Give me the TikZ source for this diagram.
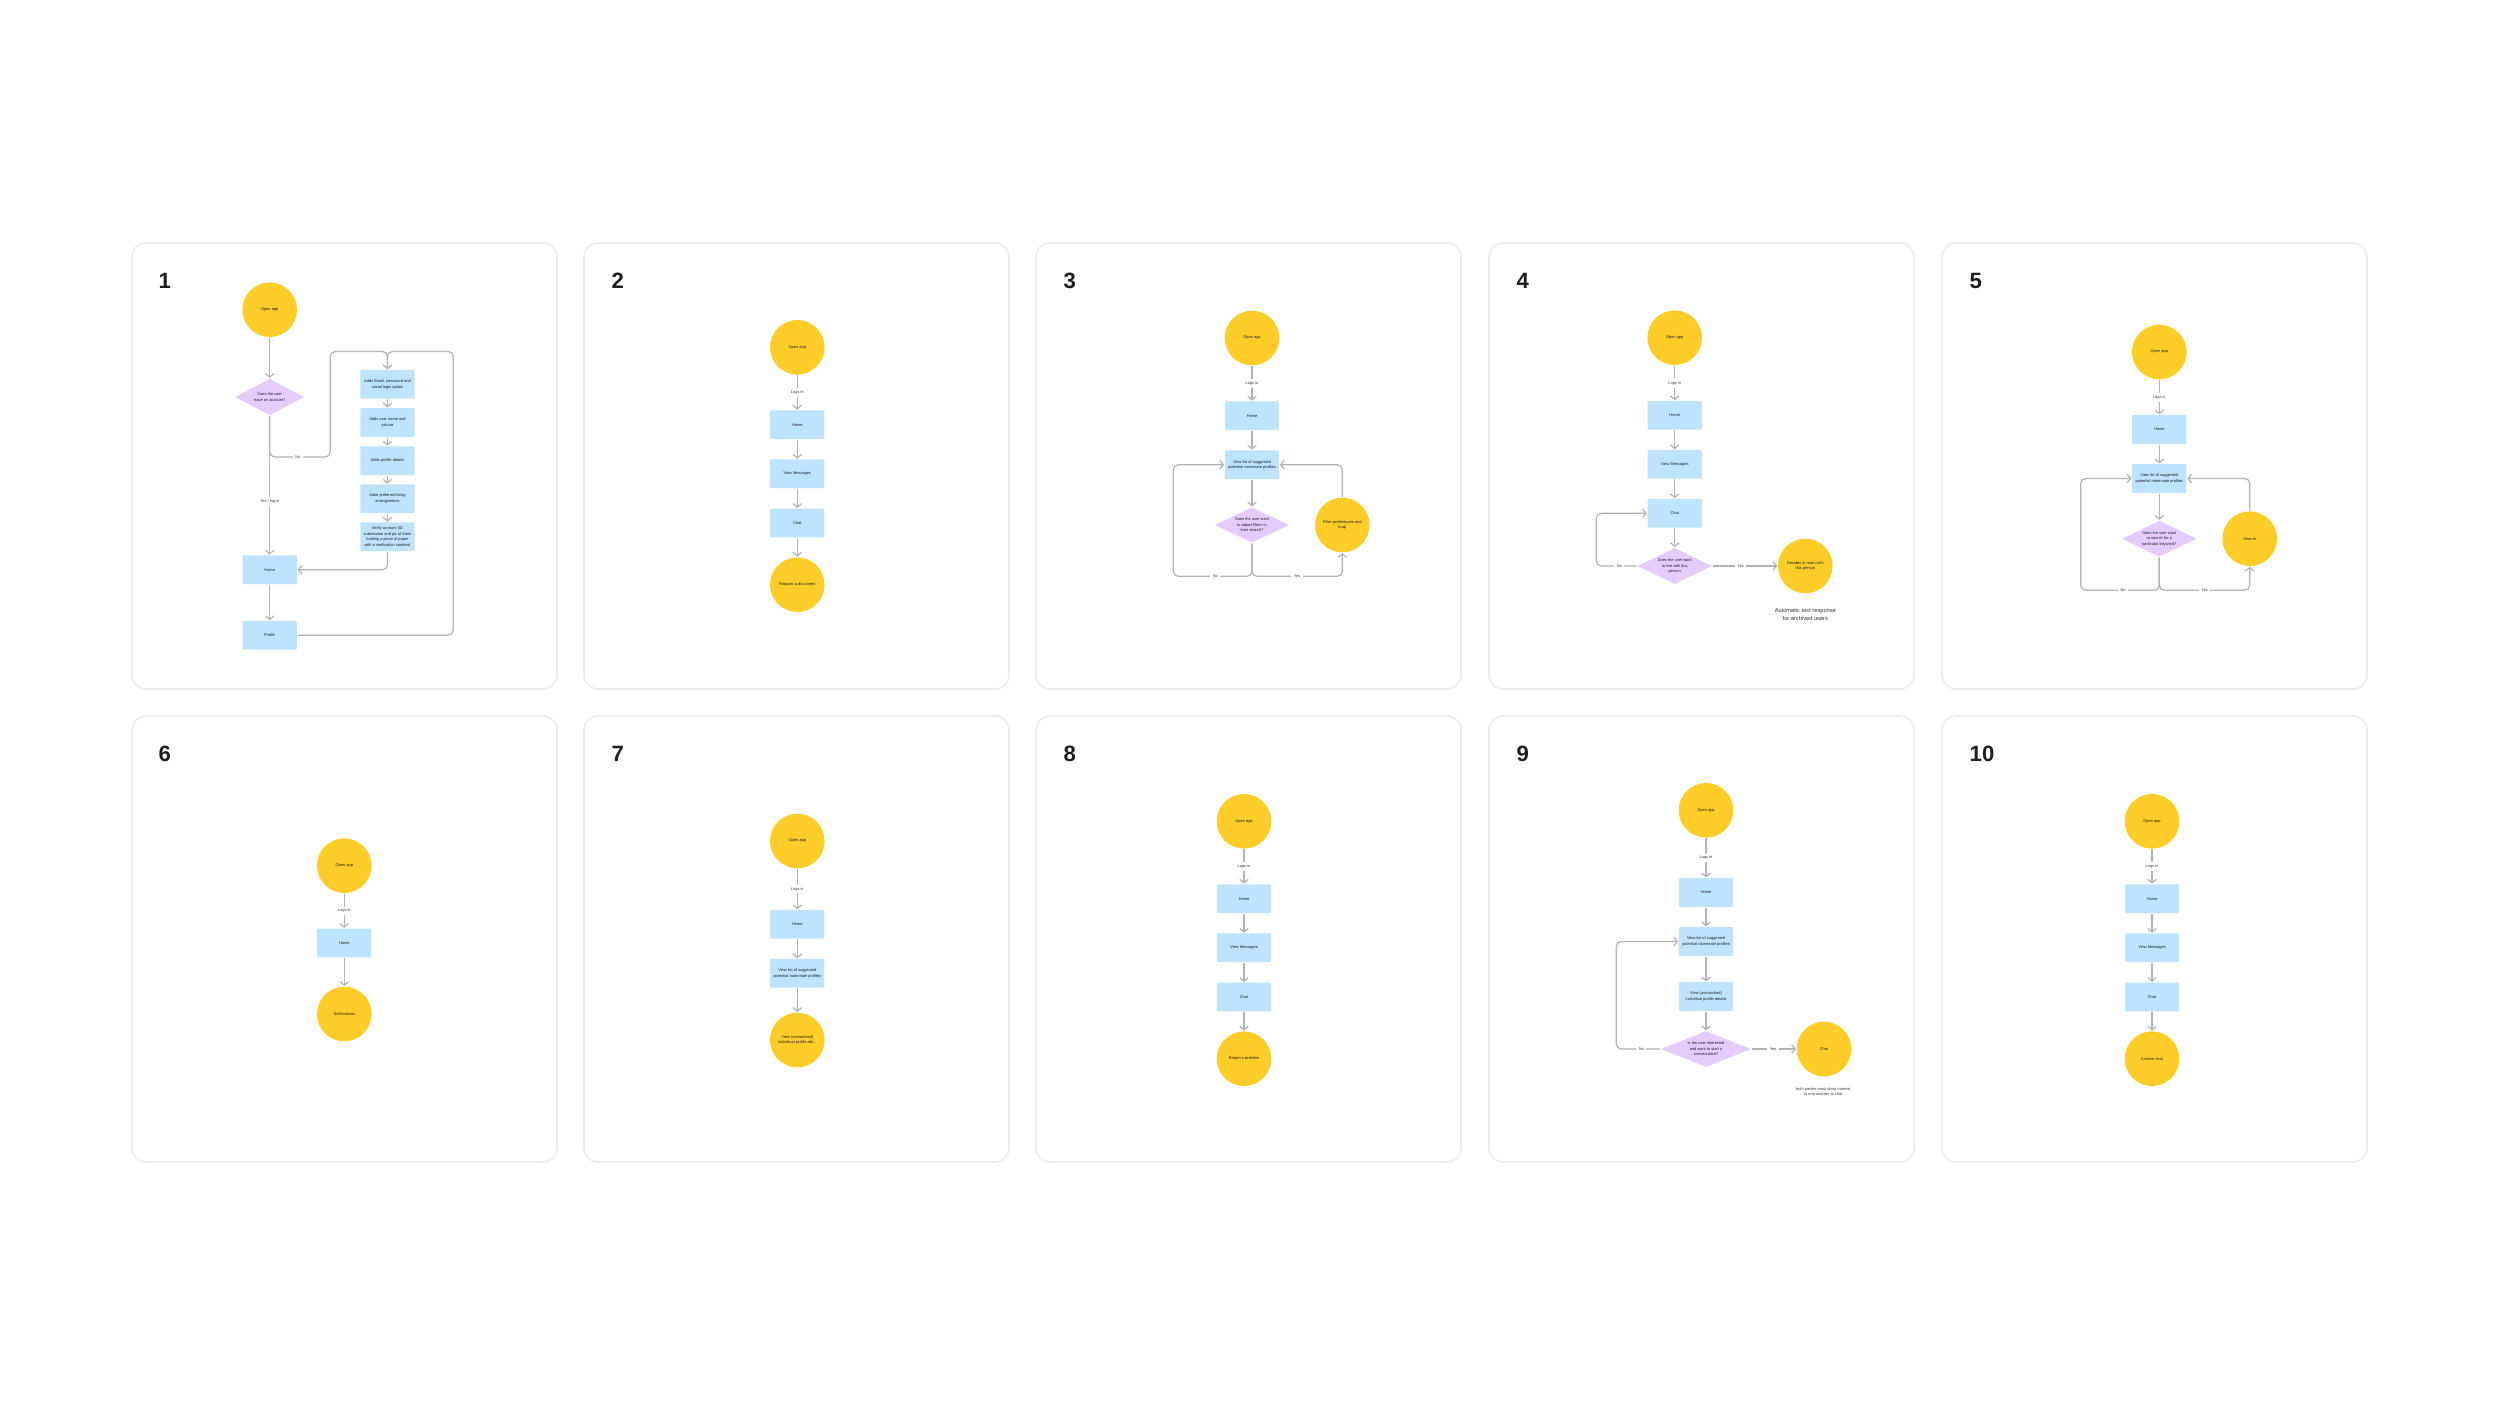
\documentclass[tikz,border=0pt]{standalone}
\usepackage{fontspec}
\setmainfont{Liberation Sans}
\usetikzlibrary{shapes.geometric,arrows.meta}
\definecolor{fjyellow}{HTML}{FFCD29}
\definecolor{fjblue}{HTML}{BDE3FF}
\definecolor{fjviolet}{HTML}{E4CCFF}
\definecolor{linegray}{HTML}{B3B3B3}
\definecolor{panelgray}{HTML}{EDEDED}
\definecolor{txt}{HTML}{1E1E1E}
\definecolor{lbltxt}{HTML}{3A3A3A}
\definecolor{notetxt}{HTML}{333333}
\newcommand\fjnode{\fontsize{1.12pt}{1.55pt}\selectfont}
\newcommand\fjnote{\fontsize{1.62pt}{2.08pt}\selectfont}
\newcommand\fjnum{\fontsize{6.3pt}{7pt}\selectfont\bfseries}
\tikzset{
 panel/.style={draw=panelgray, line width=0.45pt, fill=white, rounded corners=0.14cm},
 pnum/.style={anchor=base west, inner sep=0pt, font=\fjnum, text=txt},
 term/.style={circle, fill=fjyellow, minimum size=0.546cm, inner sep=0pt, align=center, font=\fjnode, text=txt},
 proc/.style={rectangle, fill=fjblue, minimum width=0.543cm, minimum height=0.287cm, inner sep=0pt, align=center, font=\fjnode, text=txt, rounded corners=0.3pt},
 dec/.style={diamond, fill=fjviolet, inner sep=0pt},
 dtext/.style={align=center, font=\fjnode, text=txt, inner sep=0pt},
 conn/.style={draw=linegray, line width=0.35pt, rounded corners=0.05cm, -{Straight Barb[length=1pt,width=2.4pt]}},
 lbl/.style={fill=white, inner sep=0.7pt, font=\fjnode, text=lbltxt},
 note/.style={align=center, font=\fjnote, text=notetxt, inner sep=0pt},
 smallnote/.style={align=center, font=\fjnode, text=notetxt, inner sep=0pt},
}
\begin{document}
\begin{tikzpicture}[x=0.01cm,y=-0.01cm]
\useasboundingbox[fill=white] (0,0) rectangle (2500,1406);
% panels
\foreach \px in {132,584,1036,1489,1942}{
  \draw[panel] (\px,243) rectangle ++(425,446);
  \draw[panel] (\px,716) rectangle ++(425,446);
}
\node[pnum] (n1) at (158,288.7) {1};
\node[pnum] (n2) at (611,288.7) {2};
\node[pnum] (n3) at (1063,288.7) {3};
\node[pnum] (n4) at (1516,288.7) {4};
\node[pnum] (n5) at (1969,288.7) {5};
\node[pnum] (n6) at (158,761.7) {6};
\node[pnum] (n7) at (611,761.7) {7};
\node[pnum] (n8) at (1063,761.7) {8};
\node[pnum] (n9) at (1516,761.7) {9};
\node[pnum] (n10) at (1969,761.7) {10};

% ---------- Panel 1
\node[term] (p1open) at (269.7,309.7) {Open app};
\node[dec, minimum width=0.69cm, minimum height=0.367cm] (p1q) at (269.7,397) {};
\node[dtext] (p1qt) at (p1q.center) {Does the user\\have an account?};
\node[proc] (p1home) at (269.7,569.7) {Home};
\node[proc] (p1prof) at (269.7,635.2) {Profile};
\node[proc] (p1b1) at (387.5,384.3) {Adds Email, password and\\social login option};
\node[proc] (p1b2) at (387.5,422.5) {Adds user name and\\picture};
\node[proc] (p1b3) at (387.5,460.7) {Adds profile details};
\node[proc] (p1b4) at (387.5,498.7) {Adds preferred living\\arrangements};
\node[proc] (p1b5) at (387.5,536.8) {Verify account (ID\\submission and pic of them\\holding a piece of paper\\with a verification number)};
\coordinate (p1na) at (330.3,457);
\coordinate (p1nb) at (330.3,351.5);
\coordinate (p1rt) at (453.3,351.5);
\draw[conn] (p1open) -- (p1q);
\draw[conn] (p1q.south) |- (p1na) -- (p1nb) -| (p1b1.north);
\draw[conn] (p1q.south) -- node[lbl,pos=0.615] (p1yes) {Yes / log in} (p1home.north);
\node[lbl] (p1no) at (298,457) {No};
\draw[conn] (p1b1) -- (p1b2);
\draw[conn] (p1b2) -- (p1b3);
\draw[conn] (p1b3) -- (p1b4);
\draw[conn] (p1b4) -- (p1b5);
\draw[conn] (p1b5.south) |- (p1home.east);
\draw[conn] (p1home) -- (p1prof);
\draw[conn] (p1prof.east) -| (p1rt) -| (p1b1.north);

% ---------- Panel 2
\node[term] (p2open) at (797.3,347.3) {Open app};
\node[proc] (p2home) at (797.3,424.7) {Home};
\node[proc] (p2msg) at (797.3,473.8) {View Messages};
\node[proc] (p2chat) at (797.3,523) {Chat};
\node[term] (p2req) at (797.3,584.7) {Request a document};
\draw[conn] (p2open) -- node[lbl] (p2logs) {Logs in} (p2home);
\draw[conn] (p2home) -- (p2msg);
\draw[conn] (p2msg) -- (p2chat);
\draw[conn] (p2chat) -- (p2req);

% ---------- Panel 3
\node[term] (p3open) at (1252,338) {Open app};
\node[proc] (p3home) at (1252,415.7) {Home};
\node[proc] (p3list) at (1252,464.7) {View list of suggested\\potential roommate profiles};
\node[dec, minimum width=0.747cm, minimum height=0.357cm] (p3q) at (1252,525) {};
\node[dtext] (p3qt) at (p3q.center) {Does the user want\\to adjust filters in\\their search?};
\node[term] (p3filt) at (1342.3,525) {Filter preferences and\\map};
\coordinate (p3nl) at (1173.3,576.3);
\coordinate (p3yr) at (1342.3,576.3);
\draw[conn] (p3open) -- node[lbl] (p3logs) {Logs in} (p3home);
\draw[conn] (p3home) -- (p3list);
\draw[conn] (p3list) -- (p3q);
\draw[conn] (p3q.south) |- (p3nl) |- (p3list.west);
\draw[conn] (p3q.south) |- (p3yr) -- (p3filt.south);
\draw[conn] (p3filt.north) |- (p3list.east);
\node[lbl] (p3no) at (1215.3,576.3) {No};
\node[lbl] (p3yes) at (1297,576.3) {Yes};

% ---------- Panel 4
\node[term] (p4open) at (1674.7,337.7) {Open app};
\node[proc] (p4home) at (1674.7,415.3) {Home};
\node[proc] (p4msg) at (1674.7,464.3) {View Messages};
\node[proc] (p4chat) at (1674.7,513.3) {Chat};
\node[dec, minimum width=0.747cm, minimum height=0.363cm] (p4q) at (1674.7,566) {};
\node[dtext] (p4qt) at (p4q.center) {Does the user want\\to live with this\\person};
\node[term] (p4dec) at (1805.3,566) {Decides to room with\\this person};
\node[note] (p4note) at (1805.3,614.3) {Automatic text response\\for archived users};
\coordinate (p4nl) at (1596.3,566);
\draw[conn] (p4open) -- node[lbl] (p4logs) {Logs in} (p4home);
\draw[conn] (p4home) -- (p4msg);
\draw[conn] (p4msg) -- (p4chat);
\draw[conn] (p4chat) -- (p4q);
\draw[conn] (p4q.west) -- (p4nl) |- (p4chat.west);
\draw[conn] (p4q.east) -- (p4dec.west);
\node[lbl] (p4no) at (1619.3,566) {No};
\node[lbl] (p4yes) at (1740.7,566) {Yes};

% ---------- Panel 5
\node[term] (p5open) at (2159.3,352) {Open app};
\node[proc] (p5home) at (2159.3,429.5) {Home};
\node[proc] (p5list) at (2159.3,478.5) {View list of suggested\\potential roommate profiles};
\node[dec, minimum width=0.75cm, minimum height=0.363cm] (p5q) at (2159.3,538.7) {};
\node[dtext] (p5qt) at (p5q.center) {Does the user want\\to search for a\\particular keyword?};
\node[term] (p5srch) at (2249.7,538.7) {Search};
\coordinate (p5nl) at (2080.7,590.3);
\coordinate (p5yr) at (2249.7,590.3);
\draw[conn] (p5open) -- node[lbl] (p5logs) {Logs in} (p5home);
\draw[conn] (p5home) -- (p5list);
\draw[conn] (p5list) -- (p5q);
\draw[conn] (p5q.south) |- (p5nl) |- (p5list.west);
\draw[conn] (p5q.south) |- (p5yr) -- (p5srch.south);
\draw[conn] (p5srch.north) |- (p5list.east);
\node[lbl] (p5no) at (2123,590.3) {No};
\node[lbl] (p5yes) at (2204.7,590.3) {Yes};

% ---------- Panel 6
\node[term] (p6open) at (344.3,865.7) {Open app};
\node[proc] (p6home) at (344.3,943) {Home};
\node[term] (p6notif) at (344.3,1014) {Notifications};
\draw[conn] (p6open) -- node[lbl] (p6logs) {Logs in} (p6home);
\draw[conn] (p6home) -- (p6notif);

% ---------- Panel 7
\node[term] (p7open) at (797.3,841) {Open app};
\node[proc] (p7home) at (797.3,924.3) {Home};
\node[proc] (p7list) at (797.3,973.3) {View list of suggested\\potential roommate profiles};
\node[term] (p7view) at (797.3,1040) {View (unmatched)\\individual profile det...};
\draw[conn] (p7open) -- node[lbl] (p7logs) {Logs in} (p7home);
\draw[conn] (p7home) -- (p7list);
\draw[conn] (p7list) -- (p7view);

% ---------- Panel 8
\node[term] (p8open) at (1244,821.3) {Open app};
\node[proc] (p8home) at (1244,898.7) {Home};
\node[proc] (p8msg) at (1244,947.8) {View Messages};
\node[proc] (p8chat) at (1244,997) {Chat};
\node[term] (p8rep) at (1244,1058.7) {Report a problem};
\draw[conn] (p8open) -- node[lbl] (p8logs) {Logs in} (p8home);
\draw[conn] (p8home) -- (p8msg);
\draw[conn] (p8msg) -- (p8chat);
\draw[conn] (p8chat) -- (p8rep);

% ---------- Panel 9
\node[term] (p9open) at (1706,810.3) {Open app};
\node[proc] (p9home) at (1706,892.5) {Home};
\node[proc] (p9list) at (1706,941.5) {View list of suggested\\potential roommate profiles};
\node[proc] (p9view) at (1706,996.5) {View (unmatched)\\individual profile details};
\node[dec, minimum width=0.907cm, minimum height=0.36cm] (p9q) at (1706,1049) {};
\node[dtext] (p9qt) at (p9q.center) {Is the user interested\\and want to start a\\conversation?};
\node[term] (p9chat) at (1824,1049) {Chat};
\node[smallnote] (p9note) at (1823.3,1091.3) {both parties must show interest\\in one another to chat};
\coordinate (p9nl) at (1616.3,1049);
\draw[conn] (p9open) -- node[lbl] (p9logs) {Logs in} (p9home);
\draw[conn] (p9home) -- (p9list);
\draw[conn] (p9list) -- (p9view);
\draw[conn] (p9view) -- (p9q);
\draw[conn] (p9q.west) -- (p9nl) |- (p9list.west);
\draw[conn] (p9q.east) -- (p9chat.west);
\node[lbl] (p9no) at (1641.3,1049) {No};
\node[lbl] (p9yes) at (1773,1049) {Yes};

% ---------- Panel 10
\node[term] (p10open) at (2152,821.3) {Open app};
\node[proc] (p10home) at (2152,898.7) {Home};
\node[proc] (p10msg) at (2152,947.8) {View Messages};
\node[proc] (p10chat) at (2152,997) {Chat};
\node[term] (p10arch) at (2152,1058.7) {Archive chat};
\draw[conn] (p10open) -- node[lbl] (p10logs) {Logs in} (p10home);
\draw[conn] (p10home) -- (p10msg);
\draw[conn] (p10msg) -- (p10chat);
\draw[conn] (p10chat) -- (p10arch);
\end{tikzpicture}
\end{document}
